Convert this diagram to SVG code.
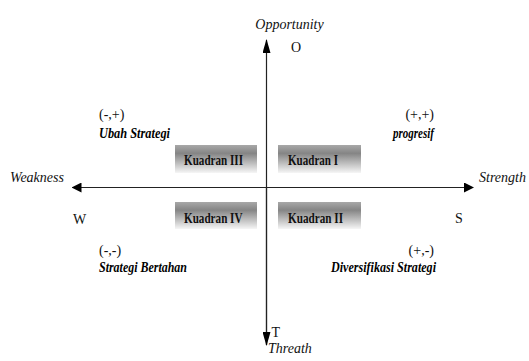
<svg xmlns="http://www.w3.org/2000/svg" width="529" height="361" viewBox="0 0 529 361">
<style>
.it{font-family:"Liberation Serif","Times New Roman",serif;font-style:italic;font-size:14px;fill:#111}
.rg{font-family:"Liberation Serif","Times New Roman",serif;font-size:14px;fill:#111}
.sc{font-family:"Liberation Serif","Times New Roman",serif;font-style:italic;font-weight:bold;font-size:15px;fill:#000}
.kb{font-family:"Liberation Serif","Times New Roman",serif;font-weight:bold;font-size:14px;fill:#111}
.ax{stroke:#222;stroke-width:1.2;fill:none}
</style>
<defs>
<linearGradient id="g" x1="0" y1="0" x2="0" y2="1">
<stop offset="0" stop-color="#a8a8a8"/>
<stop offset="0.3" stop-color="#858585"/>
<stop offset="1" stop-color="#f6f6f6"/>
</linearGradient>
<marker id="ah" viewBox="0 0 10 10" refX="9" refY="5" markerWidth="10" markerHeight="10" markerUnits="userSpaceOnUse" orient="auto">
<path d="M0,0 L10,5 L0,10 Z" fill="#000"/>
</marker>
<marker id="ahv" viewBox="0 0 14 8" refX="13" refY="4" markerWidth="14" markerHeight="8" markerUnits="userSpaceOnUse" orient="auto">
<path d="M0,0 L14,4 L0,8 Z" fill="#000"/>
</marker>
</defs>
<g id="connectors">
<line class="ax" x1="266.5" y1="345" x2="266.5" y2="40" marker-end="url(#ahv)"/>
<line class="ax" x1="266.5" y1="187.5" x2="266.5" y2="345" marker-end="url(#ahv)"/>
<line class="ax" x1="266.5" y1="187.5" x2="72.5" y2="187.5" marker-end="url(#ah)"/>
<line class="ax" x1="266.5" y1="187.5" x2="473" y2="187.5" marker-end="url(#ah)"/>
</g>
<g id="axis-labels">
<text class="it" x="289.5" y="28.5" text-anchor="middle">Opportunity</text>
<text class="rg" x="291" y="52">O</text>
<text class="it" x="10" y="182">Weakness</text>
<text class="it" x="479" y="182">Strength</text>
<text class="rg" x="73" y="224">W</text>
<text class="rg" x="455" y="223">S</text>
<text class="rg" x="271.5" y="337">T</text>
<text class="it" x="268" y="353">Threath</text>
</g>
<g id="kuadran3">
<rect x="175" y="145" width="82" height="28" fill="url(#g)"/>
<text class="kb" x="184" y="165" textLength="59" lengthAdjust="spacingAndGlyphs">Kuadran III</text>
</g>
<g id="kuadran1">
<rect x="278" y="145" width="83" height="28" fill="url(#g)"/>
<text class="kb" x="288" y="165" textLength="50" lengthAdjust="spacingAndGlyphs">Kuadran I</text>
</g>
<g id="kuadran4">
<rect x="175" y="202" width="82" height="27" fill="url(#g)"/>
<text class="kb" x="184" y="222.5" textLength="58.5" lengthAdjust="spacingAndGlyphs">Kuadran IV</text>
</g>
<g id="kuadran2">
<rect x="278" y="202" width="83" height="27" fill="url(#g)"/>
<text class="kb" x="288" y="222.5" textLength="55" lengthAdjust="spacingAndGlyphs">Kuadran II</text>
</g>
<g id="q-tl">
<text class="rg" x="99" y="118.5">(-,+)</text>
<text class="sc" x="99" y="137.5" textLength="71" lengthAdjust="spacingAndGlyphs">Ubah Strategi</text>
</g>
<g id="q-tr">
<text class="rg" x="434" y="118.5" text-anchor="end">(+,+)</text>
<text class="sc" x="393" y="137.5" textLength="41" lengthAdjust="spacingAndGlyphs">progresif</text>
</g>
<g id="q-bl">
<text class="rg" x="99" y="255">(-,-)</text>
<text class="sc" x="99" y="272" textLength="88" lengthAdjust="spacingAndGlyphs">Strategi Bertahan</text>
</g>
<g id="q-br">
<text class="rg" x="434" y="255" text-anchor="end">(+,-)</text>
<text class="sc" x="331" y="272" textLength="105" lengthAdjust="spacingAndGlyphs">Diversifikasi Strategi</text>
</g>
</svg>
